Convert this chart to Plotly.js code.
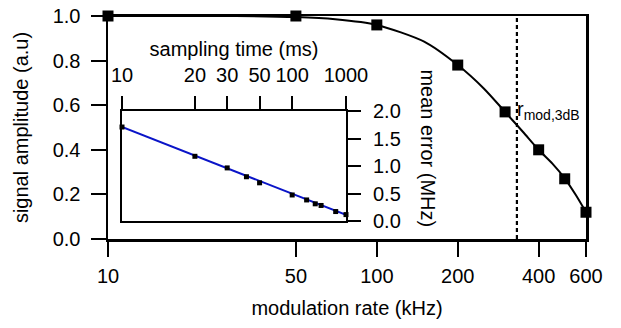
<!DOCTYPE html>
<html>
<head>
<meta charset="utf-8">
<script src="https://cdn.plot.ly/plotly-3.0.1.min.js"></script>
<style>html,body{margin:0;padding:0;background:#fff;}#chart{width:621px;height:328px;}</style>
</head>
<body>
<div id="chart"></div>
<script>
// Main chart data: signal amplitude vs modulation rate
const modRate = [10, 50, 100, 200, 300, 400, 500, 600];
const amplitude = [1.0, 1.0, 0.96, 0.78, 0.57, 0.40, 0.27, 0.12];
// Fit curve
const fitRate = [10, 20, 30, 50, 70, 100, 150, 200, 250, 300, 350, 400, 450, 500, 550, 600];
const fitAmp = [1.0, 1.0, 1.0, 0.995, 0.985, 0.96, 0.885, 0.78, 0.675, 0.57, 0.48, 0.40, 0.338, 0.272, 0.197, 0.12];
const rmod3dB = 332;
const xTickVals = [10, 50, 100, 200, 400, 600];
const yTickVals = [0, 0.2, 0.4, 0.6, 0.8, 1.0];

// Inset data: mean error vs sampling time
const sampTime = [10, 20, 30, 40, 50, 100, 150, 200, 250, 500, 1000];
const meanErr = [1.71, 1.18, 0.97, 0.81, 0.70, 0.48, 0.39, 0.32, 0.29, 0.18, 0.125];
const insetFitTime = [10, 1000];
const insetFitErr = [1.71, 0.12];
const insetTickLabels = [10, 20, 30, 50, 100, 1000];
const insetYTicks = [0, 0.5, 1.0, 1.5, 2.0];

// inset x axis is linear in 1/sqrt(t)
const tr = t => 1 / Math.sqrt(t);

const FONT = 'Liberation Sans, Arial, Helvetica, sans-serif';
const fs = 20;

const traces = [
  {x: [rmod3dB, rmod3dB], y: [0, 1], mode: 'lines', xaxis: 'x', yaxis: 'y',
   line: {color: '#000', width: 2.2, dash: '4px,3px'}, hoverinfo: 'skip'},
  {x: fitRate, y: fitAmp, mode: 'lines', xaxis: 'x', yaxis: 'y',
   line: {color: '#000', width: 2, shape: 'spline', smoothing: 0.7}, cliponaxis: false},
  {x: modRate, y: amplitude, mode: 'markers', xaxis: 'x', yaxis: 'y', cliponaxis: false,
   marker: {symbol: 'square', size: 11, color: '#000'}},
  {x: insetFitTime.map(tr), y: insetFitErr, mode: 'lines', xaxis: 'x2', yaxis: 'y2',
   line: {color: '#0a14c8', width: 2}},
  {x: sampTime.map(tr), y: meanErr, mode: 'markers', xaxis: 'x2', yaxis: 'y2', cliponaxis: false,
   marker: {symbol: 'square', size: 5, color: '#000'}}
];

const axBase = {showgrid: false, zeroline: false, showline: true, linecolor: '#000',
  ticks: 'outside', tickcolor: '#000', tickfont: {family: FONT, size: fs, color: '#000'}};

const layout = {
  width: 621, height: 328,
  margin: {l: 108, r: 35, t: 16, b: 89},
  paper_bgcolor: '#fff', plot_bgcolor: 'rgba(0,0,0,0)',
  showlegend: false,
  font: {family: FONT, size: fs, color: '#000'},
  xaxis: Object.assign({}, axBase, {
    type: 'log', range: [1, Math.log10(600)], tickvals: xTickVals, ticktext: xTickVals.map(String),
    linewidth: 2.5, ticklen: 15, tickwidth: 2, mirror: true, ticklabelstandoff: 2,
    title: {text: 'modulation rate (kHz)', font: {family: FONT, size: fs}, standoff: 16}
  }),
  yaxis: Object.assign({}, axBase, {
    range: [0, 1.0], tickvals: yTickVals, tickformat: '.1f',
    linewidth: 2.5, ticklen: 15, tickwidth: 2, mirror: true, ticklabelstandoff: 6,
    title: {text: 'signal amplitude (a.u)', font: {family: FONT, size: fs}, standoff: 19}
  }),
  xaxis2: Object.assign({}, axBase, {
    anchor: 'y2', side: 'top', domain: [0.0293, 0.4979],
    range: [tr(10), tr(1000)], tickvals: insetTickLabels.map(tr), ticktext: insetTickLabels.map(String),
    linewidth: 2, ticklen: 13, tickwidth: 2, mirror: true, ticklabelstandoff: 6,
    title: {text: 'sampling time (ms)', font: {family: FONT, size: fs}, standoff: 2}
  }),
  yaxis2: Object.assign({}, axBase, {
    anchor: 'x2', side: 'right', domain: [0.0785, 0.574],
    range: [0, 2.0], tickvals: insetYTicks, tickformat: '.1f',
    linewidth: 2, ticklen: 13, tickwidth: 2, mirror: true, ticklabelstandoff: 8
  }),
  annotations: [
    {xref: 'paper', yref: 'paper', x: 0.6705, y: 0.404, text: 'mean error (MHz)', textangle: 90,
     showarrow: false, font: {family: FONT, size: fs, color: '#000'}, xanchor: 'center', yanchor: 'middle'},
    {xref: 'paper', yref: 'paper', x: 0.852, y: 0.575, text: 'r<sub>mod,3dB</sub>',
     showarrow: false, font: {family: FONT, size: fs, color: '#000'}, xanchor: 'left', yanchor: 'middle'}
  ]
};

Plotly.newPlot('chart', traces, layout, {staticPlot: true, displayModeBar: false});
</script>
</body>
</html>
